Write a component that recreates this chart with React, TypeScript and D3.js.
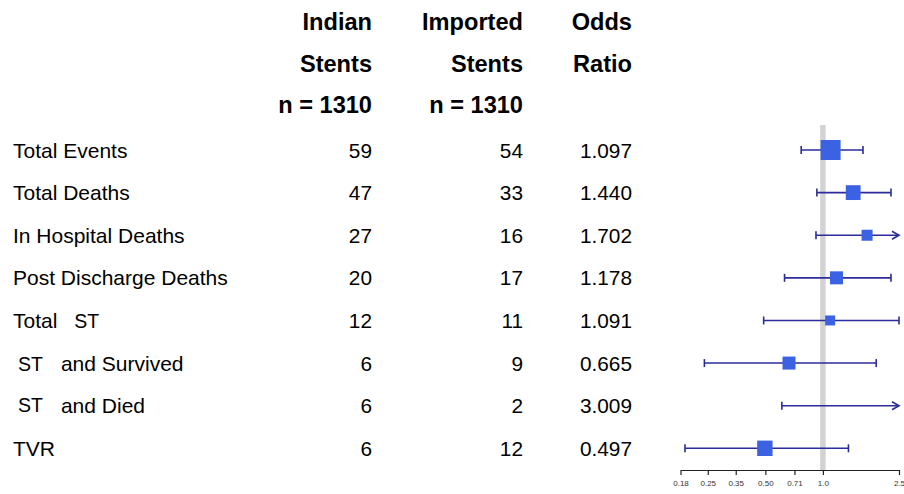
import React, { useEffect, useRef } from "react";
import * as d3 from "d3";

// forest plot data
const outcomes = [
  "Total Events",
  "Total Deaths",
  "In Hospital Deaths",
  "Post Discharge Deaths",
  "Total ST",
  "ST and Survived",
  "ST and Died",
  "TVR",
];
const indianEvents = [59, 47, 27, 20, 12, 6, 6, 6];
const importedEvents = [54, 33, 16, 17, 11, 9, 2, 12];
const oddsRatio = [1.097, 1.44, 1.702, 1.178, 1.091, 0.665, 3.009, 0.497];
const ciLower = [0.77, 0.93, 0.92, 0.63, 0.49, 0.24, 0.61, 0.19];
const ciUpper = [1.62, 2.27, 3.15, 2.27, 2.5, 1.9, 14.5, 1.36];
const boxWeight = [1.0, 0.74, 0.55, 0.65, 0.5, 0.65, 0.3, 0.77];

const headerCols = [
  ["Indian", "Stents", "n = 1310"],
  ["Imported", "Stents", "n = 1310"],
  ["Odds", "Ratio", ""],
];
const tickValues = [0.18, 0.25, 0.35, 0.5, 0.71, 1.0, 2.5];
const tickLabels = ["0.18", "0.25", "0.35", "0.50", "0.71", "1.0", "2.5"];

const W = 904,
  H = 494;

function App() {
  const ref = useRef<SVGSVGElement>(null);

  useEffect(() => {
    const svg = d3.select(ref.current);
    svg.selectAll("*").remove();

    const font = "'Liberation Sans', Arial, sans-serif";
    const yRow = d3.scaleLinear().domain([0, 7]).range([150, 448.3]);
    const x = d3.scaleLog().domain([0.18, 2.5]).range([680.5, 899]);
    const size = d3.scaleLinear().domain([0, 1]).range([0, 20]);
    const colRight = [372, 523, 632];

    // header
    const head = svg.append("g").attr("font-family", font).attr("font-weight", "bold").attr("font-size", 23.6).attr("text-anchor", "end");
    headerCols.forEach((col, ci) => {
      col.forEach((t, ri) => {
        head
          .append("text")
          .attr("x", colRight[ci])
          .attr("y", yRow(ri - 3) + 7.5 - (ri === 2 ? 1.5 : 0))
          .text(t);
      });
    });

    // labels
    const lab = svg.append("g").attr("font-family", font).attr("font-size", 21).attr("fill", "#000");
    outcomes.forEach((name, i) => {
      const t = lab.append("text").attr("x", 13).attr("y", yRow(i) + 7.5).style("white-space", "pre");
      const parts = name.split(/(ST)/).filter((p) => p !== "");
      parts.forEach((p, k) => {
        if (p === "ST") {
          t.append("tspan")
            .attr("font-size", 19.5)
            .attr("dx", k === 0 ? 5 : 17)
            .attr("dy", i === 6 ? -1.5 : 0)
            .text(p);
        } else {
          t.append("tspan")
            .attr("dx", k === 0 ? 0 : 18)
            .attr("dy", i === 6 && k > 0 ? 1.5 : 0)
            .text(p.trim());
        }
      });
    });

    // number columns
    const num = svg.append("g").attr("font-family", font).attr("font-size", 20.8).attr("text-anchor", "end");
    [indianEvents.map(String), importedEvents.map(String), oddsRatio.map((d) => d.toFixed(3))].forEach((vals, ci) => {
      num
        .selectAll(`.c${ci}`)
        .data(vals)
        .join("text")
        .attr("class", `c${ci}`)
        .attr("x", colRight[ci])
        .attr("y", (d, i) => yRow(i) + 7.5)
        .text((d) => d);
    });

    // reference line at 1
    svg
      .append("line")
      .attr("x1", x(1))
      .attr("x2", x(1))
      .attr("y1", 125)
      .attr("y2", 470)
      .attr("stroke", "#d3d3d3")
      .attr("stroke-width", 5.5);

    // CIs
    const lineCol = "#2b2b9c";
    const boxCol = "#3a62e2";
    const [xmin, xmax] = x.domain();
    const ci = svg.append("g").attr("stroke", lineCol).attr("stroke-width", 1.6).attr("fill", "none");
    outcomes.forEach((_, i) => {
      const y = yRow(i);
      const lo = Math.max(ciLower[i], xmin);
      const hi = Math.min(ciUpper[i], xmax);
      ci.append("line").attr("x1", x(lo)).attr("x2", x(hi)).attr("y1", y).attr("y2", y);
      if (ciLower[i] >= xmin) ci.append("line").attr("x1", x(lo)).attr("x2", x(lo)).attr("y1", y - 4).attr("y2", y + 4);
      if (ciUpper[i] <= xmax) {
        ci.append("line").attr("x1", x(hi)).attr("x2", x(hi)).attr("y1", y - 4).attr("y2", y + 4);
      } else {
        ci.append("path").attr("d", `M${x(hi) - 7},${y - 4}L${x(hi)},${y}L${x(hi) - 7},${y + 4}`);
      }
    });

    // boxes
    svg
      .append("g")
      .selectAll("rect")
      .data(outcomes.map((o, i) => ({ or: oddsRatio[i], w: boxWeight[i], i })).filter((d) => d.or >= xmin && d.or <= xmax))
      .join("rect")
      .attr("x", (d) => x(d.or) - size(d.w) / 2)
      .attr("y", (d) => yRow(d.i) - size(d.w) / 2)
      .attr("width", (d) => size(d.w))
      .attr("height", (d) => size(d.w))
      .attr("fill", boxCol);

    // axis
    const axis = svg
      .append("g")
      .attr("transform", "translate(0,470)")
      .call(
        d3
          .axisBottom(x)
          .tickValues(tickValues)
          .tickFormat((d, i) => tickLabels[i])
          .tickSize(5)
          .tickSizeOuter(0)
          .tickPadding(5)
      );
    axis.select(".domain").attr("stroke", "#222").attr("stroke-width", 1.2);
    axis.selectAll(".tick line").attr("stroke", "#222").attr("stroke-width", 1.2);
    axis.selectAll(".tick text").attr("font-family", font).attr("font-size", 8).attr("fill", "#333");
  }, []);

  return (
    <svg ref={ref} width={W} height={H} style={{ position: "absolute", left: 0, top: 0, background: "#fff" }} />
  );
}

export default App;
